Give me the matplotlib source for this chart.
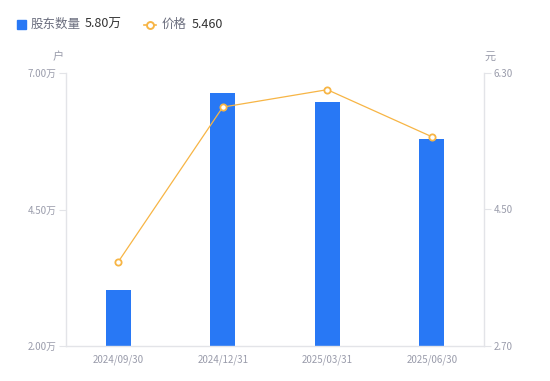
import matplotlib
matplotlib.use("Agg")
import matplotlib.pyplot as plt
from matplotlib.lines import Line2D

plt.rcParams['font.family'] = ['Noto Sans CJK SC', 'DejaVu Sans']

categories = ["2024/09/30", "2024/12/31", "2025/03/31", "2025/06/30"]
holders = [3.03, 6.63, 6.47, 5.80]   # 万户
price = [3.81, 5.85, 6.08, 5.46]     # 元
left_ticks = [2.00, 4.50, 7.00]
right_ticks = [2.70, 4.50, 6.30]

bar_color = "#2878F5"
line_color = "#F7B545"
axis_color = "#E3E4E8"
tick_text = "#9A9CAB"

fig = plt.figure(figsize=(5.5, 3.81), dpi=100)
W, H = 550, 381
x0, x1 = 66, 484
y0, y1 = 73, 346
ax = fig.add_axes([x0 / W, 1 - y1 / H, (x1 - x0) / W, (y1 - y0) / H])
ax2 = ax.twinx()

xs = list(range(len(categories)))
ax.bar(xs, holders, width=0.24, color=bar_color, zorder=2)
ax.set_xlim(-0.5, len(categories) - 0.5)
ax.set_ylim(left_ticks[0], left_ticks[-1])
ax.set_yticks(left_ticks)
ax.set_yticklabels([f"{v:.2f}万" for v in left_ticks])
ax.set_xticks(xs)
ax.set_xticklabels(categories)

ax2.plot(xs, price, color=line_color, lw=0.9, marker="o", ms=4.5,
         markerfacecolor="white", markeredgecolor=line_color, markeredgewidth=1.3, zorder=3)
ax2.set_ylim(right_ticks[0], right_ticks[-1])
ax2.set_yticks(right_ticks)
ax2.set_yticklabels([f"{v:.2f}" for v in right_ticks])

for a in (ax, ax2):
    for s in a.spines.values():
        s.set_visible(False)
ax.spines['left'].set_visible(True)
ax.spines['bottom'].set_visible(True)
ax2.spines['right'].set_visible(True)
for s in (ax.spines['left'], ax.spines['bottom'], ax2.spines['right']):
    s.set_color(axis_color)
    s.set_linewidth(1)

ax.tick_params(axis='y', length=5, color=axis_color, labelsize=7, labelcolor=tick_text, pad=2)
ax.tick_params(axis='x', length=0, labelsize=7, labelcolor=tick_text, pad=6)
ax2.tick_params(axis='y', length=5, color=axis_color, labelsize=7, labelcolor=tick_text, pad=2)

fig.text(58 / W, 1 - 57 / H, "户", fontsize=8, color=tick_text, ha="center", va="center")
fig.text(490 / W, 1 - 57 / H, "元", fontsize=8, color=tick_text, ha="center", va="center")

# legend
fig.patches.append(plt.Rectangle((17 / W, 1 - 29 / H), 9 / W, 9 / H, transform=fig.transFigure,
                                 color=bar_color))
fig.text(31 / W, 1 - 24.5 / H, "股东数量", fontsize=9, color="#6B6E7E", va="center")
fig.text(85 / W, 1 - 24.5 / H, "5.80万", fontsize=9, color="#333333", va="center")
fig.lines.append(Line2D([144 / W, 156 / W], [1 - 24.5 / H, 1 - 24.5 / H], transform=fig.transFigure,
                        color=line_color, lw=1.2, marker="o", markevery=[0], ms=0))
fig.lines.append(Line2D([150 / W], [1 - 24.5 / H], transform=fig.transFigure, color=line_color,
                        marker="o", ms=5, markerfacecolor="white", markeredgewidth=1.4, lw=0))
fig.text(162 / W, 1 - 24.5 / H, "价格", fontsize=9, color="#6B6E7E", va="center")
fig.text(192 / W, 1 - 24.5 / H, "5.460", fontsize=9, color="#333333", va="center")

fig.savefig("out.png", dpi=100)
